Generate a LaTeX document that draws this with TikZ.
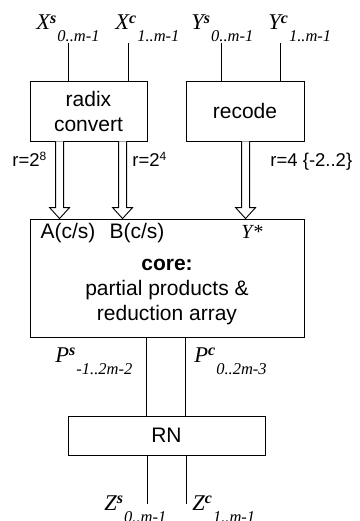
\documentclass[tikz,border=0pt]{standalone}
\usepackage{fontspec}
\setmainfont{Liberation Sans}
\newfontfamily\tms{Liberation Serif}
\usetikzlibrary{positioning,calc}

\newcommand{\sig}[3]{{\tms\itshape\fontsize{22.5}{22.5}\selectfont #1\raisebox{6.5pt}{\fontsize{16}{16}\selectfont\bfseries #2}\hspace{1pt}\raisebox{-12pt}{\fontsize{16.5}{16.5}\selectfont #3}}}
\newcommand{\rsup}[1]{\raisebox{6.5pt}{\fontsize{12}{12}\selectfont #1}}
\newcommand{\fatarrow}[2]{%
  \draw[fill=white] let \p1=(#1), \p2=(#2) in
    (\x1-4pt,\y1) -- (\x1-4pt,\y2+11pt) -- (\x1-10pt,\y2+11pt) -- (\x1,\y2)
    -- (\x1+10pt,\y2+11pt) -- (\x1+4pt,\y2+11pt) -- (\x1+4pt,\y1);
}

\begin{document}
\begin{tikzpicture}[
    x=1pt, y=-1pt, line width=0.9pt,
    box/.style={rectangle, draw, inner sep=0pt, align=center, font=\fontsize{21}{25}\selectfont},
    sig/.style={anchor=base west, inner sep=0pt},
    rlab/.style={anchor=base west, inner sep=0pt, font=\fontsize{18.5}{22}\selectfont},
    port/.style={anchor=base, inner sep=0pt, font=\fontsize{21}{25}\selectfont}
]
    \useasboundingbox (0,0) rectangle (359,521);

    % blocks
    \node[box, minimum width=117, minimum height=60] (radix) at (88.5,111) {radix\\convert};
    \node[box, minimum width=118, minimum height=60] (recode) at (245,111) {recode};
    \node[box, minimum width=274, minimum height=118] (core) at (167,278) {};
    \node[box, minimum width=197, minimum height=39] (rn) at (166.5,435.5) {RN};

    \node[port, font=\fontsize{21}{25}\selectfont\bfseries] (coret) at (167,270) {core:};
    \node[port] (pp) at (167,295) {partial products \&};
    \node[port] (ra) at (167,320) {reduction array};

    % inputs
    \node[sig] (xsl) at (36,30) {\sig{X}{s}{0..m-1}};
    \node[sig] (xcl) at (115,30) {\sig{X}{c}{1..m-1}};
    \node[sig] (ysl) at (191,30) {\sig{Y}{s}{0..m-1}};
    \node[sig] (ycl) at (268,30) {\sig{Y}{c}{1..m-1}};
    \coordinate (xs) at (68,43);
    \coordinate (xc) at (128,43);
    \coordinate (ys) at (221,43);
    \coordinate (yc) at (280,43);
    \draw (xs) -- (xs |- radix.north);
    \draw (xc) -- (xc |- radix.north);
    \draw (ys) -- (ys |- recode.north);
    \draw (yc) -- (yc |- recode.north);

    % wide arrows
    \fatarrow{$(radix.south west)+(30,0)$}{$(core.north west)+(30,0)$}
    \fatarrow{$(radix.south west)+(93,0)$}{$(core.north west)+(93,0)$}
    \fatarrow{$(recode.south west)+(60,0)$}{$(core.north west)+(216,0)$}

    \node[rlab] (r8) at (12,167) {r=2\rsup{8}};
    \node[rlab] (r4) at (132,167) {r=2\rsup{4}};
    \node[rlab] (rr) at (270,167) {r=4 \{-2..2\}};

    \node[port] (pa) at (68,238) {A(c/s)};
    \node[port] (pb) at (137,238) {B(c/s)};
    \node[port, font=\tms\itshape\fontsize{20}{20}\selectfont] (py) at (252,238) {Y*};

    % outputs
    \coordinate (ps) at ($(core.south west)+(117,0)$);
    \coordinate (pc) at ($(core.south west)+(156,0)$);
    \draw (ps) -- (ps |- rn.north);
    \draw (pc) -- (pc |- rn.north);
    \node[sig] (psl) at (55,362) {\sig{P}{s}{-1..2m-2}};
    \node[sig] (pcl) at (194,362) {\sig{P}{c}{0..2m-3}};

    \coordinate (zs) at (147,504);
    \coordinate (zc) at (186,504);
    \draw (rn.south -| zs) -- (zs);
    \draw (rn.south -| zc) -- (zc);
    \node[sig] (zsl) at (104,510) {\sig{Z}{s}{0..m-1}};
    \node[sig] (zcl) at (192,510) {\sig{Z}{c}{1..m-1}};
\end{tikzpicture}
\end{document}
